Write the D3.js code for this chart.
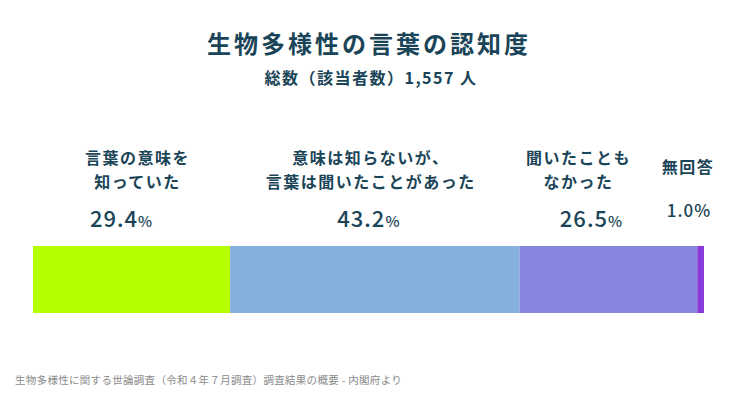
<!DOCTYPE html>
<html>
<head>
<meta charset="utf-8">
<script src="https://cdn.jsdelivr.net/npm/d3@7"></script>
<style>
  body { margin: 0; background: #fff; }
  svg { display: block; font-family: "Noto Sans CJK JP", "Noto Sans", sans-serif; }
</style>
</head>
<body>
<svg id="chart" width="736" height="399"></svg>
<script>
var categories = [
  ["言葉の意味を", "知っていた"],
  ["意味は知らないが、", "言葉は聞いたことがあった"],
  ["聞いたことも", "なかった"],
  ["無回答"]
];
var values = [29.4, 43.2, 26.5, 1.0];
var colors = ["#b6ff00", "#85b0dd", "#8686de", "#8a3ad9"];
var title = "生物多様性の言葉の認知度";
var subtitle = "総数（該当者数）1,557 人";
var source = "生物多様性に関する世論調査（令和４年７月調査）調査結果の概要 - 内閣府より";

var textColor = "#1a4457";
var svg = d3.select("#chart");

var total = d3.sum(values);
var x = d3.scaleLinear().domain([0, total]).range([33, 704]);
var starts = d3.cumsum([0].concat(values.slice(0, -1)));

var barTop = 246, barH = 67;

svg.append("text")
  .attr("x", 369).attr("y", 53)
  .attr("text-anchor", "middle")
  .attr("fill", textColor)
  .attr("font-size", 24).attr("font-weight", "bold")
  .attr("letter-spacing", 3)
  .text(title);

svg.append("text")
  .attr("x", 371).attr("y", 84)
  .attr("text-anchor", "middle")
  .attr("fill", textColor)
  .attr("font-size", 16).attr("font-weight", "bold")
  .attr("letter-spacing", 1.5)
  .text(subtitle);

svg.selectAll("rect.seg")
  .data(values)
  .enter().append("rect")
  .attr("class", "seg")
  .attr("x", function(d, i) { return x(starts[i]); })
  .attr("y", barTop)
  .attr("width", function(d) { return x(d) - x(0); })
  .attr("height", barH)
  .attr("fill", function(d, i) { return colors[i]; });

// label anchors: segment centre, nudged where the original drifts
var labelShift = [6, -4, -30, 0];
var numShift = [-10, -6, -17, 0];
var labelX = function(d, i) {
  if (i == values.length - 1) return 688;
  return x(starts[i] + d / 2) + labelShift[i];
};
var numX = function(d, i) {
  if (i == values.length - 1) return 689;
  return x(starts[i] + d / 2) + numShift[i];
};

var labels = svg.selectAll("text.cat")
  .data(values)
  .enter().append("text")
  .attr("class", "cat")
  .attr("text-anchor", "middle")
  .attr("fill", textColor)
  .attr("font-size", 16).attr("font-weight", "bold")
  .attr("letter-spacing", 1.5);

labels.each(function(d, i) {
  var lines = categories[i];
  var el = d3.select(this);
  var y0 = lines.length == 1 ? 173 : 164;
  lines.forEach(function(line, k) {
    el.append("tspan")
      .attr("x", labelX(d, i))
      .attr("y", y0 + k * 24)
      .text(line);
  });
});

svg.selectAll("text.pct")
  .data(values)
  .enter().append("text")
  .attr("class", "pct")
  .attr("text-anchor", "middle")
  .attr("fill", textColor)
  .attr("font-weight", 500)
  .attr("letter-spacing", 1)
  .each(function(d, i) {
    var last = i == values.length - 1;
    var el = d3.select(this)
      .attr("x", numX(d, i))
      .attr("y", last ? 217 : 227);
    el.append("tspan").attr("font-size", last ? 17 : 22).text(d.toFixed(1));
    el.append("tspan").attr("font-size", last ? 17 : 15).text("%");
  });

svg.append("text")
  .attr("x", 15).attr("y", 384)
  .attr("fill", "#8a8a8a")
  .attr("font-size", 10.5)
  .attr("letter-spacing", 0.3)
  .text(source);
</script>
</body>
</html>
